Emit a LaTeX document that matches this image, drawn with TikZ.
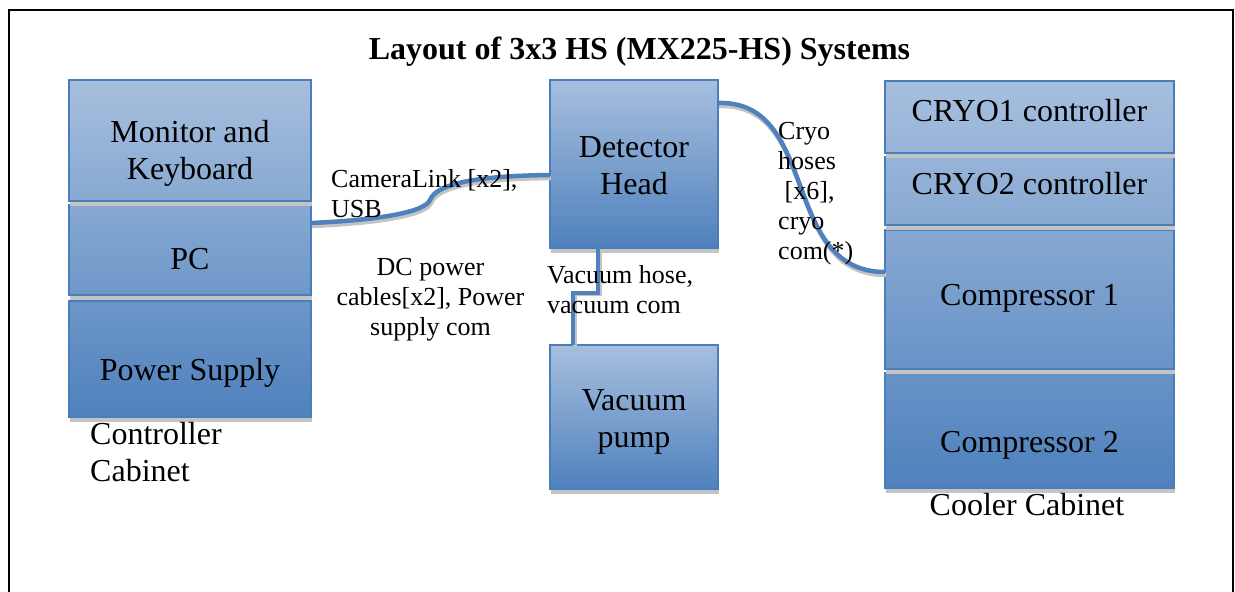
\documentclass[tikz,border=0pt]{standalone}
\usepackage{fontspec}
\setmainfont{Liberation Serif}
\usetikzlibrary{shadows,calc}
\definecolor{hiA}{HTML}{A7BFDE}
\definecolor{loA}{HTML}{4F81BD}
\definecolor{edgeA}{HTML}{4A7EBB}
\definecolor{shGray}{HTML}{C4C4C4}
\begin{document}
\begin{tikzpicture}[x=1pt, y={(0pt,-1pt)},
  sect/.style={rectangle, draw=edgeA, line width=2pt, inner sep=0pt, outer sep=0pt, anchor=north west,
    drop shadow={shadow xshift=1pt, shadow yshift=-5pt, opacity=1, fill=shGray, draw=none}},
  boxtext/.style={font=\fontsize{32}{37}\selectfont, align=center, anchor=north, inner sep=0pt},
  lbl/.style={font=\fontsize{26}{30}\selectfont, align=left, anchor=north west, inner sep=0pt},
  cable/.style={draw=loA, line width=4.5pt},
  cableshadow/.style={draw=shGray, line width=4.5pt, transform canvas={xshift=1pt, yshift=-3pt}}
]
\useasboundingbox (0,0) rectangle (1235,592);
% frame
\draw[line width=2pt, black] (9,600) -- (9,10) -- (1233,10) -- (1233,600);
% title
\node[font=\fontsize{32}{37}\selectfont\bfseries, anchor=base, inner sep=0pt] (title) at (639.5,59) {Layout of 3x3 HS (MX225-HS) Systems};

% controller cabinet
\node[sect, minimum width=242, minimum height=116, top color=loA!66!hiA, bottom color=loA] (ps) at (69,301) {};
\node[sect, minimum width=242, minimum height=90, top color=loA!37!hiA, bottom color=loA!64!hiA] (pc) at (69,205) {};
\node[sect, minimum width=242, minimum height=121, top color=hiA, bottom color=loA!36!hiA] (mon) at (69,80) {};

% detector head and vacuum pump
\node[sect, minimum width=168, minimum height=168, top color=hiA, bottom color=loA] (det) at (550,80) {};
\node[sect, minimum width=168, minimum height=144, top color=hiA, bottom color=loA] (pump) at (550,345) {};

% cooler cabinet
\node[sect, minimum width=289, minimum height=115, top color=loA!72!hiA, bottom color=loA] (comp2) at (885,373) {};
\node[sect, minimum width=289, minimum height=139, top color=loA!37!hiA, bottom color=loA!71!hiA] (comp1) at (885,230) {};
\node[sect, minimum width=289, minimum height=68, top color=loA!19!hiA, bottom color=loA!35!hiA] (cryo2) at (885,157) {};
\node[sect, minimum width=289, minimum height=72, top color=hiA, bottom color=loA!18!hiA] (cryo1) at (885,81) {};

% cables
\draw[cableshadow] ([yshift=27pt]pc.east) .. controls (380,220) and (425,212) .. (430,200) .. controls (436,185) and (470,176) .. ([yshift=-11pt]det.west);
\draw[cable] ([yshift=27pt]pc.east) .. controls (380,220) and (425,212) .. (430,200) .. controls (436,185) and (470,176) .. ([yshift=-11pt]det.west);

\draw[cableshadow] ([yshift=61pt]det.east) .. controls (820,100) and (780,272) .. ([yshift=27.5pt]comp1.west);
\draw[cable] ([yshift=61pt]det.east) .. controls (820,100) and (780,272) .. ([yshift=27.5pt]comp1.west);

\draw[draw=shGray, line width=4pt, transform canvas={xshift=2pt, yshift=-1pt}] ([xshift=-36pt]det.south) -- ++(0,45) -| ([xshift=-61pt]pump.north);
\draw[draw=loA, line width=4pt] ([xshift=-36pt]det.south) -- ++(0,45) -| ([xshift=-61pt]pump.north);

% box texts
\node[boxtext] (tmon) at (190,116.1) {\strut Monitor and\\Keyboard};
\node[boxtext] (tpc) at (190,243.1) {\strut PC};
\node[boxtext] (tps) at (190,354.1) {\strut Power Supply};
\node[boxtext, anchor=north west, align=left] (tcc) at (90,418.1) {\strut Controller\\Cabinet};
\node[boxtext] (tdet) at (634,131.1) {\strut Detector\\Head};
\node[boxtext] (tpump) at (634,384.1) {\strut Vacuum\\pump};
\node[boxtext] (tc1) at (1029.5,95.1) {\strut CRYO1 controller};
\node[boxtext] (tc2) at (1029.5,168.1) {\strut CRYO2 controller};
\node[boxtext] (tcp1) at (1029.5,279.1) {\strut Compressor 1};
\node[boxtext] (tcp2) at (1029.5,426.1) {\strut Compressor 2};
\node[boxtext] (tcool) at (1027,489.7) {\strut Cooler Cabinet};

% connector labels
\node[lbl] (lcam) at (331,166) {\strut CameraLink [x2],\\USB};
\node[lbl, anchor=north, align=center] (ldc) at (430.5,254) {\strut DC power\\cables[x2], Power\\supply com};
\node[lbl] (lvac) at (547,262) {\strut Vacuum hose,\\vacuum com};
\node[lbl] (lcryo) at (778,118) {\strut Cryo\\hoses\\\hspace*{6.5pt}[x6],\\cryo\\com(*)};
\end{tikzpicture}
\end{document}
